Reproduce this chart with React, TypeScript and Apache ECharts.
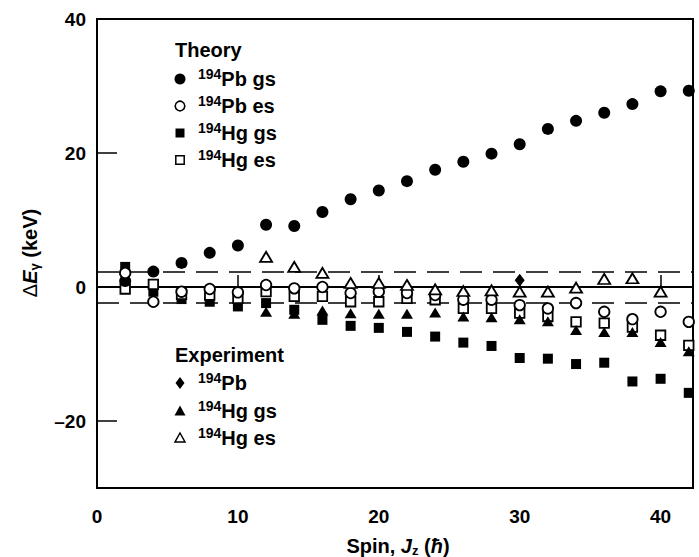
import React, { useEffect, useRef } from "react";
import * as echarts from "echarts";

// ---- data ----
const spins = [2, 4, 6, 8, 10, 12, 14, 16, 18, 20, 22, 24, 26, 28, 30, 32, 34, 36, 38, 40, 42];
const theoryPbGs = [0.9, 2.3, 3.6, 5.1, 6.2, 9.3, 9.1, 11.2, 13.1, 14.4, 15.8, 17.5, 18.7, 19.9, 21.3, 23.6, 24.8, 26.0, 27.3, 29.2, 29.3];
const theoryPbEs = [2.1, -2.2, -0.7, -0.3, -0.8, 0.3, -0.2, 0.0, -0.9, -0.7, -0.9, -1.2, -1.9, -1.9, -2.7, -3.2, -2.4, -3.7, -4.8, -3.7, -5.2];
const theoryHgGs = [3.0, -0.7, -1.8, -2.2, -2.9, -2.4, -3.4, -4.9, -5.8, -6.1, -6.7, -7.4, -8.3, -8.8, -10.6, -10.7, -11.5, -11.3, -14.1, -13.7, -15.8];
const theoryHgEs = [-0.3, 0.4, -1.1, -1.2, -1.7, -0.7, -1.4, -1.4, -2.2, -2.2, -1.7, -1.9, -3.2, -3.2, -3.9, -4.4, -5.2, -5.4, -6.0, -7.2, -8.7];

const expHgGsSpins = [12, 14, 16, 18, 20, 22, 24, 26, 28, 30, 32, 34, 36, 38, 40, 42];
const expHgGs = [-3.7, -4.0, -3.5, -3.9, -4.0, -4.0, -3.8, -4.4, -4.5, -4.8, -5.1, -6.4, -6.7, -6.7, -8.2, -9.6];
const expHgEsSpins = [12, 14, 16, 18, 20, 22, 24, 26, 28, 30, 32, 34, 36, 38, 40];
const expHgEs = [4.5, 3.0, 2.1, 0.6, 0.6, 0.3, -0.35, -0.6, -0.5, -0.7, -0.7, -0.1, 1.2, 1.3, -0.7];
const expPbSpins = [30];
const expPb = [1.0];

const xTickValues = [0, 10, 20, 30, 40];
const xTickMarks = [10, 20, 30, 40];
const yTickValues = [-20, 0, 20, 40];
const bandLevels = [2.3, -2.3];
const zeroLevel = 0;

const FONT = '"Liberation Sans", Arial, Helvetica, sans-serif';

function pairs(xs: number[], ys: number[]) {
  return xs.map((x, i) => [x, ys[i]]);
}

const filled = { color: "#000", borderColor: "#000", borderWidth: 0, opacity: 1 };
const open = { color: "#fff", borderColor: "#000", borderWidth: 1.8, opacity: 1 };

function legendLabel(x: number, y: number, main: string) {
  return {
    type: "text",
    x,
    y,
    style: {
      text: `{s|194}{m|${main}}`,
      align: "left",
      verticalAlign: "middle",
      fill: "#000",
      rich: {
        s: { fontFamily: FONT, fontWeight: "bold", fontSize: 14, lineHeight: 8, verticalAlign: "top", fill: "#000" },
        m: { fontFamily: FONT, fontWeight: "bold", fontSize: 20, lineHeight: 24, fill: "#000" },
      },
    },
  };
}

export default function App() {
  const ref = useRef<HTMLDivElement>(null);

  useEffect(() => {
    if (!ref.current) return;
    const chart = echarts.init(ref.current, undefined, { renderer: "svg" });

    const symX = 180;
    const textX = 198;
    const theoryRows = [79, 106, 133, 160];
    const expRows = [383, 411, 438];

    const graphic: any[] = [
      { type: "text", x: 175, y: 50, style: { text: "Theory", fontFamily: FONT, fontWeight: "bold", fontSize: 20, fill: "#000", align: "left", verticalAlign: "middle" } },
      { type: "circle", shape: { cx: symX, cy: theoryRows[0], r: 5.5 }, style: { fill: "#000" } },
      legendLabel(textX, theoryRows[0], "Pb gs"),
      { type: "circle", shape: { cx: symX, cy: theoryRows[1], r: 4.8 }, style: { fill: "#fff", stroke: "#000", lineWidth: 1.6 } },
      legendLabel(textX, theoryRows[1], "Pb es"),
      { type: "rect", shape: { x: symX - 4.5, y: theoryRows[2] - 4.5, width: 9, height: 9 }, style: { fill: "#000" } },
      legendLabel(textX, theoryRows[2], "Hg gs"),
      { type: "rect", shape: { x: symX - 4.2, y: theoryRows[3] - 4.2, width: 8.4, height: 8.4 }, style: { fill: "#fff", stroke: "#000", lineWidth: 1.5 } },
      legendLabel(textX, theoryRows[3], "Hg es"),

      { type: "text", x: 175, y: 355, style: { text: "Experiment", fontFamily: FONT, fontWeight: "bold", fontSize: 20, fill: "#000", align: "left", verticalAlign: "middle" } },
      { type: "polygon", shape: { points: [[symX, expRows[0] - 6], [symX + 4.5, expRows[0]], [symX, expRows[0] + 6], [symX - 4.5, expRows[0]]] }, style: { fill: "#000" } },
      legendLabel(textX, expRows[0], "Pb"),
      { type: "polygon", shape: { points: [[symX, expRows[1] - 5.5], [symX + 5.5, expRows[1] + 4.5], [symX - 5.5, expRows[1] + 4.5]] }, style: { fill: "#000" } },
      legendLabel(textX, expRows[1], "Hg gs"),
      { type: "polygon", shape: { points: [[symX, expRows[2] - 5], [symX + 5, expRows[2] + 4], [symX - 5, expRows[2] + 4]] }, style: { fill: "#fff", stroke: "#000", lineWidth: 1.5 } },
      legendLabel(textX, expRows[2], "Hg es"),

      // x axis title
      {
        type: "text",
        x: 398,
        y: 546,
        style: {
          text: "{b|Spin, }{i|J}{sub|z}{b| (}{i|ħ}{b|)}",
          align: "center",
          verticalAlign: "middle",
          fill: "#000",
          rich: {
            b: { fontFamily: FONT, fontWeight: "bold", fontSize: 20, lineHeight: 22, fill: "#000" },
            i: { fontFamily: FONT, fontWeight: "bold", fontStyle: "italic", fontSize: 20, lineHeight: 22, fill: "#000" },
            sub: { fontFamily: FONT, fontWeight: "bold", fontSize: 13, lineHeight: 10, verticalAlign: "bottom", fill: "#000" },
          },
        },
      },
      // y axis title
      {
        type: "text",
        x: 30,
        y: 253,
        rotation: Math.PI / 2,
        style: {
          text: "{d|Δ}{i|E}{sub|γ}{b| (keV)}",
          align: "center",
          verticalAlign: "middle",
          fill: "#000",
          rich: {
            d: { fontFamily: FONT, fontWeight: "normal", fontSize: 20, lineHeight: 22, fill: "#000" },
            b: { fontFamily: FONT, fontWeight: "bold", fontSize: 20, lineHeight: 22, fill: "#000" },
            i: { fontFamily: FONT, fontWeight: "bold", fontStyle: "italic", fontSize: 20, lineHeight: 22, fill: "#000" },
            sub: { fontFamily: FONT, fontWeight: "bold", fontSize: 13, lineHeight: 10, verticalAlign: "bottom", fill: "#000" },
          },
        },
      },
    ];

    const axisFont = { fontFamily: FONT, fontWeight: "bold", fontSize: 19, color: "#000" };

    const markLineData: any[] = [
      ...bandLevels.map((v) => ({ yAxis: v, lineStyle: { type: [22, 11], width: 1.5, color: "#000" } })),
      { yAxis: zeroLevel, lineStyle: { type: "solid", width: 1.5, color: "#000" } },
    ];

    chart.setOption({
      animation: false,
      backgroundColor: "#fff",
      grid: { left: 97, right: 6, top: 19, bottom: 69, show: true, borderColor: "#000", borderWidth: 2, backgroundColor: "transparent" },
      xAxis: {
        type: "value",
        min: 0,
        max: 42.3,
        interval: 10,
        splitLine: { show: false },
        axisLine: { show: true, lineStyle: { color: "#000", width: 2 } },
        axisTick: { show: true, inside: true, length: 12, customValues: xTickMarks, lineStyle: { color: "#000", width: 1.5 } },
        axisLabel: { ...axisFont, margin: 19, customValues: xTickValues },
      },
      yAxis: {
        type: "value",
        min: -30,
        max: 40,
        interval: 10,
        splitLine: { show: false },
        axisLine: { show: true, lineStyle: { color: "#000", width: 2 } },
        axisTick: { show: true, inside: true, length: 20, customValues: yTickValues, lineStyle: { color: "#000", width: 1.5 } },
        axisLabel: {
          ...axisFont,
          margin: 11,
          customValues: yTickValues,
          formatter: (v: number) => (v < 0 ? "–" + Math.abs(v) : String(v)),
        },
      },
      graphic,
      series: [
        {
          name: "194Hg gs theory",
          type: "scatter",
          data: pairs(spins, theoryHgGs),
          symbol: "rect",
          symbolSize: 10,
          itemStyle: filled,
          z: 2,
          markLine: { silent: true, symbol: ["none", "none"], label: { show: false }, data: markLineData, z: 1 },
        },
        {
          name: "194Hg es theory",
          type: "scatter",
          data: pairs(spins, theoryHgEs),
          symbol: "rect",
          symbolSize: 9.5,
          itemStyle: open,
          z: 3,
        },
        {
          name: "194Pb gs theory",
          type: "scatter",
          data: pairs(spins, theoryPbGs),
          symbol: "circle",
          symbolSize: 12,
          itemStyle: filled,
          z: 4,
        },
        {
          name: "194Pb es theory",
          type: "scatter",
          data: pairs(spins, theoryPbEs),
          symbol: "circle",
          symbolSize: 10.5,
          itemStyle: open,
          z: 5,
        },
        {
          name: "194Hg gs experiment",
          type: "scatter",
          data: pairs(expHgGsSpins, expHgGs),
          symbol: "triangle",
          symbolSize: [12, 10],
          itemStyle: filled,
          z: 6,
        },
        {
          name: "194Hg es experiment",
          type: "scatter",
          data: pairs(expHgEsSpins, expHgEs),
          symbol: "triangle",
          symbolSize: [12, 10],
          itemStyle: open,
          z: 7,
        },
        {
          name: "194Pb experiment",
          type: "scatter",
          data: pairs(expPbSpins, expPb),
          symbol: "diamond",
          symbolSize: [10, 13],
          itemStyle: filled,
          z: 8,
        },
      ],
    });

    return () => chart.dispose();
  }, []);

  return <div ref={ref} style={{ position: "fixed", left: 0, top: 0, width: 699, height: 557 }} />;
}
